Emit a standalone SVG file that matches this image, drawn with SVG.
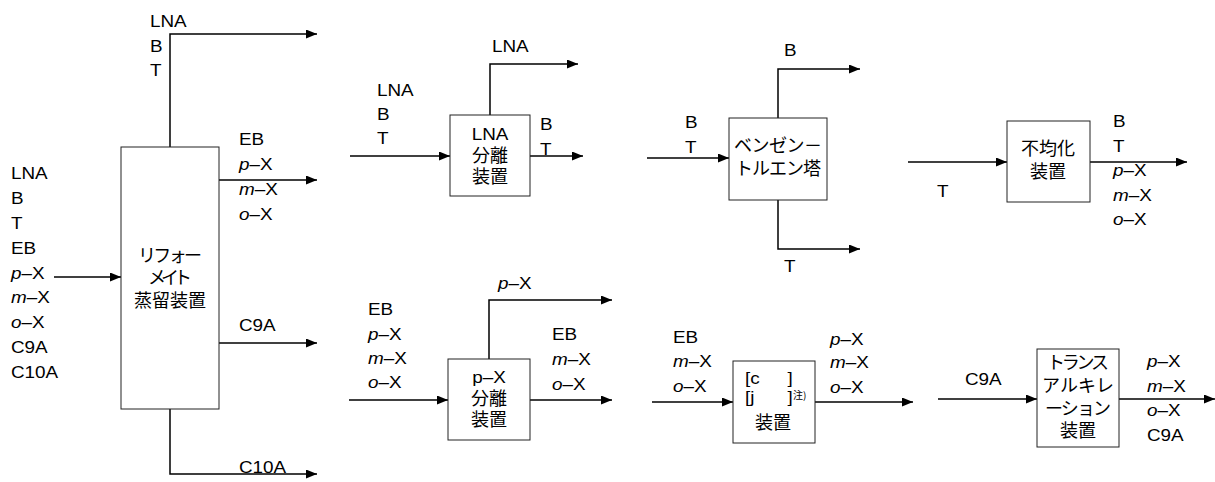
<svg xmlns="http://www.w3.org/2000/svg" width="1215" height="482" viewBox="0 0 1215 482">
<style>
.t{font-family:"Liberation Sans",Arial,sans-serif;font-size:16px;fill:#000}
.it{font-family:"Liberation Sans",Arial,sans-serif;font-style:italic}
.j{font-family:"Noto Sans CJK JP",sans-serif;font-size:18px;fill:#000;text-anchor:middle}
.c{text-anchor:middle}
.box{fill:#fff;stroke:#222;stroke-width:1}
.ln{fill:none;stroke:#000;stroke-width:1.5;marker-end:url(#ah)}
</style>
<defs>
<marker id="ah" markerUnits="userSpaceOnUse" markerWidth="11" markerHeight="9" refX="11" refY="4.5" orient="auto">
<path d="M0,0 L11,4.5 L0,9 z" fill="#000"/>
</marker>
</defs>
<rect width="1215" height="482" fill="#fff"/>

<g id="connectors">
<path class="ln" d="M54,277 H121"/>
<path class="ln" d="M170,147 V34 H317"/>
<path class="ln" d="M219,180 H317"/>
<path class="ln" d="M219,343 H317"/>
<path class="ln" d="M170,409 V474 H317"/>
<path class="ln" d="M350,156 H450"/>
<path class="ln" d="M490,115 V64 H578"/>
<path class="ln" d="M530,156 H583"/>
<path class="ln" d="M349,400 H448"/>
<path class="ln" d="M489,359 V300 H612"/>
<path class="ln" d="M530,400 H612"/>
<path class="ln" d="M647,158 H729"/>
<path class="ln" d="M778,118 V69 H860"/>
<path class="ln" d="M778,200 V249 H860"/>
<path class="ln" d="M652,402 H733"/>
<path class="ln" d="M815,402 H913"/>
<path class="ln" d="M908,162 H1007"/>
<path class="ln" d="M1090,162 H1187"/>
<path class="ln" d="M938,399 H1037"/>
<path class="ln" d="M1119,399 H1215"/>
</g>

<g id="labels">
<g transform="translate(11,0) scale(1.18,1)">
<text class="t" y="179">LNA</text>
<text class="t" y="204">B</text>
<text class="t" y="229">T</text>
<text class="t" y="254">EB</text>
<text class="t" y="279"><tspan class="it">p</tspan>–X</text>
<text class="t" y="303"><tspan class="it">m</tspan>–X</text>
<text class="t" y="328"><tspan class="it">o</tspan>–X</text>
<text class="t" y="353">C9A</text>
<text class="t" y="378">C10A</text>
</g>
<g transform="translate(150,0) scale(1.18,1)">
<text class="t" y="27">LNA</text>
<text class="t" y="52">B</text>
<text class="t" y="76">T</text>
</g>
<g transform="translate(239,0) scale(1.18,1)">
<text class="t" y="145">EB</text>
<text class="t" y="170"><tspan class="it">p</tspan>–X</text>
<text class="t" y="195"><tspan class="it">m</tspan>–X</text>
<text class="t" y="220"><tspan class="it">o</tspan>–X</text>
<text class="t" y="331">C9A</text>
<text class="t" y="473">C10A</text>
</g>
<g transform="translate(377,0) scale(1.18,1)">
<text class="t" y="96">LNA</text>
<text class="t" y="120">B</text>
<text class="t" y="144">T</text>
</g>
<g transform="translate(492,0) scale(1.18,1)">
<text class="t" y="52">LNA</text>
</g>
<g transform="translate(540,0) scale(1.18,1)">
<text class="t" y="130">B</text>
<text class="t" y="155">T</text>
</g>
<g transform="translate(368,0) scale(1.18,1)">
<text class="t" y="315">EB</text>
<text class="t" y="340"><tspan class="it">p</tspan>–X</text>
<text class="t" y="364"><tspan class="it">m</tspan>–X</text>
<text class="t" y="388"><tspan class="it">o</tspan>–X</text>
</g>
<g transform="translate(498,0) scale(1.18,1)">
<text class="t" y="289"><tspan class="it">p</tspan>–X</text>
</g>
<g transform="translate(552,0) scale(1.18,1)">
<text class="t" y="340">EB</text>
<text class="t" y="365"><tspan class="it">m</tspan>–X</text>
<text class="t" y="390"><tspan class="it">o</tspan>–X</text>
</g>
<g transform="translate(685,0) scale(1.18,1)">
<text class="t" y="128">B</text>
<text class="t" y="153">T</text>
</g>
<g transform="translate(784,0) scale(1.18,1)">
<text class="t" y="56">B</text>
<text class="t" y="272">T</text>
</g>
<g transform="translate(673,0) scale(1.18,1)">
<text class="t" y="343">EB</text>
<text class="t" y="367"><tspan class="it">m</tspan>–X</text>
<text class="t" y="392"><tspan class="it">o</tspan>–X</text>
</g>
<g transform="translate(830,0) scale(1.18,1)">
<text class="t" y="345"><tspan class="it">p</tspan>–X</text>
<text class="t" y="368"><tspan class="it">m</tspan>–X</text>
<text class="t" y="393"><tspan class="it">o</tspan>–X</text>
</g>
<g transform="translate(937,0) scale(1.18,1)">
<text class="t" y="197">T</text>
</g>
<g transform="translate(1113,0) scale(1.18,1)">
<text class="t" y="127">B</text>
<text class="t" y="152">T</text>
<text class="t" y="176"><tspan class="it">p</tspan>–X</text>
<text class="t" y="201"><tspan class="it">m</tspan>–X</text>
<text class="t" y="225"><tspan class="it">o</tspan>–X</text>
</g>
<g transform="translate(965,0) scale(1.18,1)">
<text class="t" y="385">C9A</text>
</g>
<g transform="translate(1147,0) scale(1.18,1)">
<text class="t" y="367"><tspan class="it">p</tspan>–X</text>
<text class="t" y="392"><tspan class="it">m</tspan>–X</text>
<text class="t" y="416"><tspan class="it">o</tspan>–X</text>
<text class="t" y="441">C9A</text>
</g>
</g>

<g id="reformate-distillation">
<rect class="box" x="121" y="147" width="98" height="262"/>
<text class="j" x="170" y="262" textLength="64">リフォー</text>
<text class="j" x="170" y="284" textLength="44">メイト</text>
<text class="j" x="170" y="307">蒸留装置</text>
</g>

<g id="lna-separation">
<rect class="box" x="450" y="115" width="80" height="81"/>
<g transform="translate(490,0) scale(1.18,1)"><text class="t c" y="140">LNA</text></g>
<text class="j" x="490" y="162">分離</text>
<text class="j" x="490" y="183">装置</text>
</g>

<g id="px-separation">
<rect class="box" x="448" y="359" width="82" height="81"/>
<g transform="translate(489,0) scale(1.18,1)"><text class="t c" y="383">p–X</text></g>
<text class="j" x="489" y="405">分離</text>
<text class="j" x="489" y="426">装置</text>
</g>

<g id="benzene-toluene-tower">
<rect class="box" x="729" y="118" width="98" height="82"/>
<text class="j" x="778" y="152" textLength="88">ベンゼン－</text>
<text class="j" x="778" y="175" textLength="86">トルエン塔</text>
</g>

<g id="cj-device">
<rect class="box" x="733" y="361" width="82" height="82"/>
<g transform="translate(745,0) scale(1.18,1)">
<text class="t" y="384"><tspan x="0">[c</tspan><tspan x="36">]</tspan></text>
<text class="t" y="403"><tspan x="0">[j</tspan><tspan x="36">]</tspan></text>
</g>
<text x="793" y="399" style="font-family:'Noto Sans CJK JP',sans-serif;font-size:10px">注)</text>
<text class="j" x="773" y="429">装置</text>
</g>

<g id="disproportionation">
<rect class="box" x="1007" y="121" width="83" height="81"/>
<text class="j" x="1048" y="155">不均化</text>
<text class="j" x="1048" y="178">装置</text>
</g>

<g id="transalkylation">
<rect class="box" x="1037" y="349" width="82" height="98"/>
<text class="j" x="1078" y="369" textLength="62">トランス</text>
<text class="j" x="1078" y="392" textLength="72">アルキレ</text>
<text class="j" x="1078" y="415" textLength="66">ーション</text>
<text class="j" x="1078" y="437">装置</text>
</g>
</svg>
